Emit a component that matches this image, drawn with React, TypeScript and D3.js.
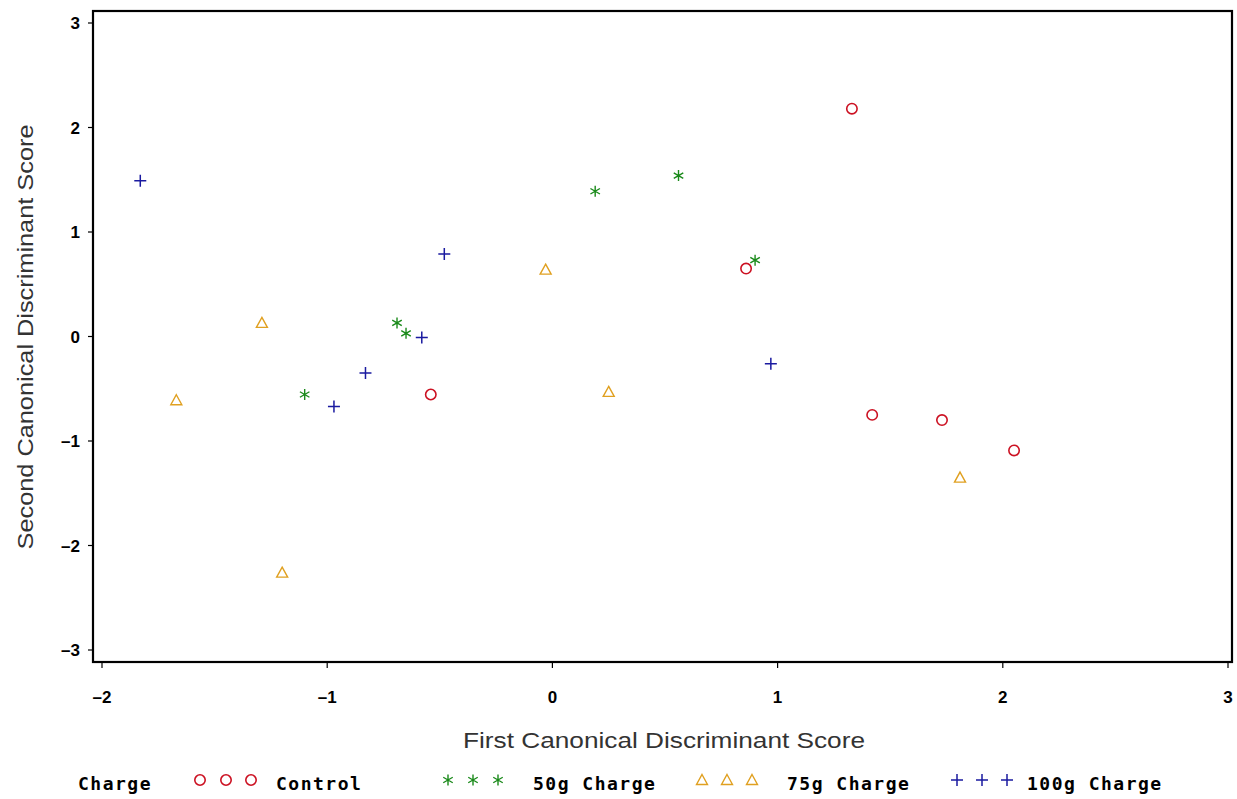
import React from 'react';
import * as d3 from 'd3';

// first / second canonical scores per group
const controlX = [1.33, 0.86, -0.54, 1.42, 1.73, 2.05];
const controlY = [2.18, 0.65, -0.555, -0.75, -0.8, -1.09];
const g50X = [0.19, 0.56, 0.9, -0.69, -0.65, -1.1];
const g50Y = [1.39, 1.54, 0.73, 0.13, 0.03, -0.555];
const g75X = [-0.03, -1.29, -1.67, 0.25, 1.81, -1.2];
const g75Y = [0.64, 0.13, -0.61, -0.53, -1.35, -2.26];
const g100X = [-1.83, -0.48, -0.58, -0.83, -0.97, 0.97];
const g100Y = [1.49, 0.79, -0.01, -0.35, -0.67, -0.26];

const xTicks = [-2, -1, 0, 1, 2, 3];
const yTicks = [-3, -2, -1, 0, 1, 2, 3];

const groups = [
  { name: 'Control', xs: controlX, ys: controlY, color: '#cc1122', shape: 'circle' },
  { name: '50g Charge', xs: g50X, ys: g50Y, color: '#1a8a1a', shape: 'star' },
  { name: '75g Charge', xs: g75X, ys: g75Y, color: '#e0a020', shape: 'triangle' },
  { name: '100g Charge', xs: g100X, ys: g100Y, color: '#1a1aa0', shape: 'plus' },
];

const monoBold = { fontFamily: '"DejaVu Sans Mono", monospace', fontWeight: 'bold' as const };
const tickFont = { fontFamily: '"Liberation Sans", Arial, sans-serif', fontWeight: 'bold' as const };
const titleFont = '"Liberation Sans", Arial, sans-serif';

const fmt = (t: number) => (t < 0 ? `–${Math.abs(t)}` : `${t}`);

function Marker({ shape, x, y, color }: { shape: string; x: number; y: number; color: string }) {
  if (shape === 'circle') {
    return <circle cx={x} cy={y} r={5.2} fill="none" stroke={color} strokeWidth={1.6} />;
  }
  if (shape === 'triangle') {
    return <path d={`M${x},${y - 5.5}L${x + 5.5},${y + 4.5}L${x - 5.5},${y + 4.5}Z`} fill="none" stroke={color} strokeWidth={1.4} />;
  }
  if (shape === 'plus') {
    return <path d={`M${x - 6},${y}H${x + 6}M${x},${y - 6}V${y + 6}`} stroke={color} strokeWidth={1.5} />;
  }
  const r = 5.5;
  const arms = [90, 30, 150].map((a) => {
    const t = (a * Math.PI) / 180;
    const dx = r * Math.cos(t);
    const dy = r * Math.sin(t);
    return `M${x - dx},${y - dy}L${x + dx},${y + dy}`;
  });
  return <path d={arms.join('')} stroke={color} strokeWidth={1.4} />;
}

export default function App() {
  const width = 1237;
  const height = 799;
  const frame = { left: 93, top: 11, right: 1232, bottom: 662 };

  const x = d3.scaleLinear().domain([-2, 3]).range([102, 1228]);
  const y = d3.scaleLinear().domain([-3, 3]).range([650, 23]);

  const legendY = 780;
  const legendItems = [
    { marks: [200, 226, 251], text: 276 },
    { marks: [448, 473, 498], text: 533 },
    { marks: [702, 727, 752], text: 787 },
    { marks: [957, 982, 1007], text: 1027 },
  ];

  return (
    <svg width={width} height={height} style={{ position: 'absolute', left: 0, top: 0, background: '#fff' }}>
      <rect x={0} y={0} width={width} height={height} fill="#fff" />
      <rect
        x={frame.left}
        y={frame.top}
        width={frame.right - frame.left}
        height={frame.bottom - frame.top}
        fill="none"
        stroke="#000"
        strokeWidth={2.2}
      />

      {yTicks.map((t) => (
        <g key={`y${t}`}>
          <line x1={frame.left - 5} x2={frame.left} y1={y(t)} y2={y(t)} stroke="#000" strokeWidth={1.2} />
          <text x={80} y={y(t)} dy="0.36em" textAnchor="end" fontSize={17} {...tickFont}>
            {fmt(t)}
          </text>
        </g>
      ))}

      {xTicks.map((t) => (
        <g key={`x${t}`}>
          <line x1={x(t)} x2={x(t)} y1={frame.bottom} y2={frame.bottom + 6} stroke="#000" strokeWidth={1.2} />
          <text x={x(t)} y={703} textAnchor="middle" fontSize={17} {...tickFont}>
            {fmt(t)}
          </text>
        </g>
      ))}

      <text
        x={664}
        y={748}
        textAnchor="middle"
        fontSize={22}
        textLength={402}
        lengthAdjust="spacingAndGlyphs"
        fontFamily={titleFont}
        fill="#333"
      >
        First Canonical Discriminant Score
      </text>
      <text
        transform={`translate(33,337) rotate(-90)`}
        textAnchor="middle"
        fontSize={22}
        textLength={425}
        lengthAdjust="spacingAndGlyphs"
        fontFamily={titleFont}
        fill="#333"
      >
        Second Canonical Discriminant Score
      </text>

      {groups.map((g) => (
        <g key={g.name}>
          {g.xs.map((v, i) => (
            <Marker key={i} shape={g.shape} x={x(v)} y={y(g.ys[i])} color={g.color} />
          ))}
        </g>
      ))}

      <text x={78} y={legendY + 10} fontSize={18} letterSpacing={1.5} {...monoBold}>
        Charge
      </text>
      {groups.map((g, gi) => (
        <g key={`leg${g.name}`}>
          {legendItems[gi].marks.map((mx) => (
            <Marker key={mx} shape={g.shape} x={mx} y={legendY} color={g.color} />
          ))}
          <text x={legendItems[gi].text} y={legendY + 10} fontSize={18} letterSpacing={1.5} {...monoBold}>
            {g.name}
          </text>
        </g>
      ))}
    </svg>
  );
}
